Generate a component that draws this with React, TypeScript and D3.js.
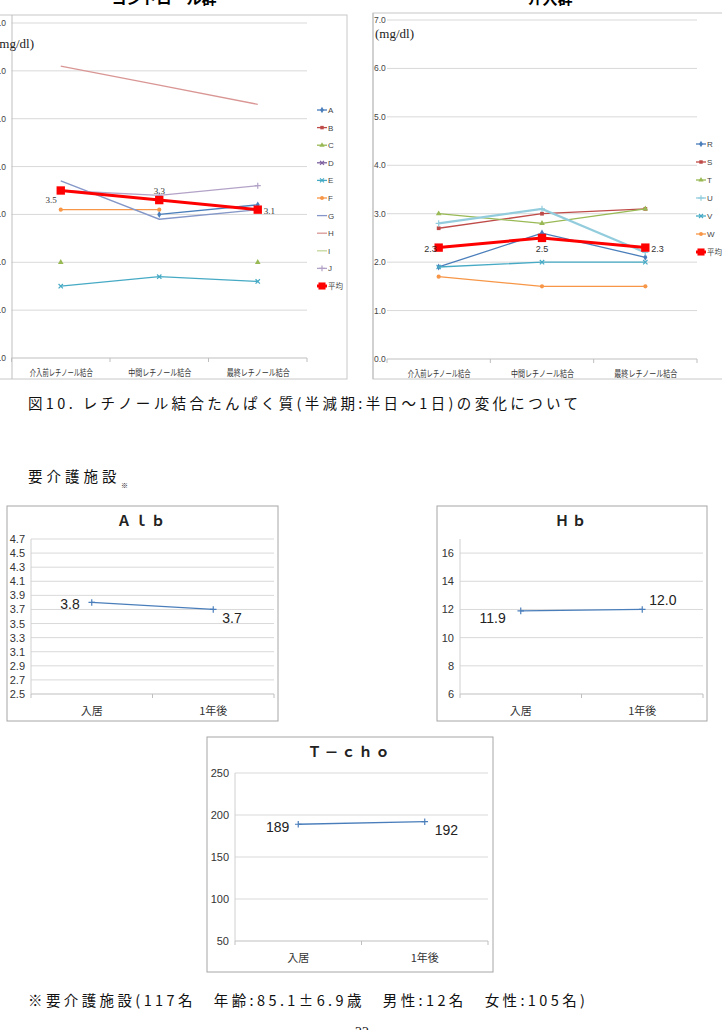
import React, { useRef, useEffect } from "react";
import * as d3 from "d3";

// retinol-binding protein, three measurements per subject
const rbpCats = ["介入前レチノール結合", "中間レチノール結合", "最終レチノール結合"];
const rbpTicks = [0, 1, 2, 3, 4, 5, 6, 7];

const controlNames = ["A", "B", "C", "D", "E", "F", "G", "H", "I", "J", "平均"];
const controlA = [null, 3.0, 3.2];
const controlB = [null, null, null];
const controlC = [2.0, null, 2.0];
const controlD = [null, null, null];
const controlE = [1.5, 1.7, 1.6];
const controlF = [3.1, 3.1, null];
const controlG = [3.7, 2.9, 3.1];
const controlH = [6.1, 5.7, 5.3];
const controlI = [4.8, null, null];
const controlJ = [3.5, 3.4, 3.6];
const controlMean = [3.5, 3.3, 3.1];

const interNames = ["R", "S", "T", "U", "V", "W", "平均"];
const interR = [1.9, 2.6, 2.1];
const interS = [2.7, 3.0, 3.1];
const interT = [3.0, 2.8, 3.1];
const interU = [2.8, 3.1, 2.2];
const interV = [1.9, 2.0, 2.0];
const interW = [1.7, 1.5, 1.5];
const interMean = [2.3, 2.5, 2.3];

// nursing-care facility residents: admission vs one year later
const facilityCats = ["入居", "1年後"];
const albValues = [3.8, 3.7];
const albTicks = [2.5, 2.7, 2.9, 3.1, 3.3, 3.5, 3.7, 3.9, 4.1, 4.3, 4.5, 4.7];
const hbValues = [11.9, 12.0];
const hbTicks = [6, 8, 10, 12, 14, 16];
const tchoValues = [189, 192];
const tchoTicks = [50, 100, 150, 200, 250];

const figCaption = "図10. レチノール結合たんぱく質(半減期:半日〜1日)の変化について";
const facilityHeading = "要介護施設";
const facilityNote = "※要介護施設(117名　年齢:85.1±6.9歳　男性:12名　女性:105名)";
const pageNumber = "22";

const controlColors = ["#4a7ebb", "#be4b48", "#98b954", "#7d60a0", "#46aac5", "#f79646",
  "#8497c8", "#d99694", "#c3d69b", "#b3a2c7", "#ff0000"];
const controlMarkers = ["diamond", "square", "triangle", "times", "times", "circle",
  "none", "none", "none", "plus", "square"];
const interColors = ["#4a7ebb", "#be4b48", "#98b954", "#93cddd", "#46aac5", "#f79646", "#ff0000"];
const interMarkers = ["diamond", "square", "triangle", "plus", "times", "circle", "square"];

const jp = "'Noto Sans CJK JP', sans-serif";
const narrow = "'Liberation Sans Narrow', 'Liberation Sans', sans-serif";

function symbolFor(kind, size) {
  const types = {
    diamond: d3.symbolDiamond, square: d3.symbolSquare, triangle: d3.symbolTriangle,
    circle: d3.symbolCircle, times: d3.symbolTimes, plus: d3.symbolPlus,
  };
  return d3.symbol(types[kind], size)();
}

function drawMarker(g, kind, x, y, color, size) {
  if (kind === "none") return;
  const stroked = kind === "times" || kind === "plus";
  g.append("path")
    .attr("d", symbolFor(kind, size))
    .attr("transform", `translate(${x},${y})`)
    .attr("fill", stroked ? "none" : color)
    .attr("stroke", stroked ? color : "none")
    .attr("stroke-width", 1.2);
}

function drawRbpChart(svg, cfg) {
  const g = svg.append("g");
  const x = d3.scaleBand().domain(rbpCats).range([cfg.left, cfg.right]);
  const y = d3.scaleLinear().domain([0, 7]).range([cfg.bottom, cfg.top]);
  const cx = (c) => x(c) + x.bandwidth() / 2;

  // frame and title
  g.append("rect").attr("x", cfg.frame[0]).attr("y", cfg.frame[1])
    .attr("width", cfg.frame[2] - cfg.frame[0]).attr("height", cfg.frame[3] - cfg.frame[1])
    .attr("fill", "none").attr("stroke", "#c8c8c8");
  g.append("text").attr("x", cfg.titleX).attr("y", 4).attr("text-anchor", "middle")
    .attr("font-family", jp).attr("font-weight", 700).attr("font-size", 15).text(cfg.title);

  g.selectAll(".grid").data(rbpTicks.slice(1)).join("line")
    .attr("x1", cfg.left).attr("x2", cfg.right)
    .attr("y1", (d) => y(d)).attr("y2", (d) => y(d))
    .attr("stroke", "#d9d9d9");
  g.append("line").attr("x1", cfg.left).attr("x2", cfg.right)
    .attr("y1", y(0)).attr("y2", y(0)).attr("stroke", "#bfbfbf");
  g.selectAll(".xtick").data([0, 1, 2, 3]).join("line")
    .attr("x1", (i) => cfg.left + i * x.bandwidth()).attr("x2", (i) => cfg.left + i * x.bandwidth())
    .attr("y1", y(0)).attr("y2", y(0) + 4).attr("stroke", "#bfbfbf");
  g.append("line").attr("x1", cfg.axisX).attr("x2", cfg.axisX)
    .attr("y1", cfg.frame[1]).attr("y2", cfg.frame[3]).attr("stroke", "#bfbfbf");

  g.selectAll(".ylab").data(rbpTicks).join("text")
    .attr("x", cfg.tickX).attr("y", (d) => y(d) + 3)
    .attr("text-anchor", cfg.tickAnchor)
    .attr("font-family", narrow).attr("font-size", 8.5).attr("fill", "#444")
    .text((d) => d.toFixed(1));

  g.selectAll(".xlab").data(rbpCats).join("text")
    .attr("x", (d) => cx(d) - 31).attr("y", y(0) + 18)
    .attr("textLength", 63).attr("lengthAdjust", "spacingAndGlyphs")
    .attr("font-family", jp).attr("font-size", 9).attr("fill", "#333")
    .text((d) => d);

  g.append("text").attr("x", cfg.unitX).attr("y", cfg.unitY)
    .attr("text-anchor", cfg.unitAnchor)
    .attr("font-family", "'Liberation Serif', serif").attr("font-size", 13).attr("fill", "#222")
    .text("(mg/dl)");

  const line = d3.line()
    .defined((d) => d.v != null)
    .x((d) => cx(d.c))
    .y((d) => y(d.v));

  cfg.series.forEach((vals, i) => {
    const pts = vals.map((v, j) => ({ c: rbpCats[j], v }));
    const isMean = i === cfg.series.length - 1;
    g.append("path").datum(pts).attr("d", line)
      .attr("fill", "none").attr("stroke", cfg.colors[i])
      .attr("stroke-width", isMean ? 3 : cfg.widths ? cfg.widths[i] : 1.3);
    pts.filter((p) => p.v != null).forEach((p) =>
      drawMarker(g, cfg.markers[i], cx(p.c), y(p.v), cfg.colors[i], isMean ? 70 : 14));
  });

  // mean value labels
  const mean = cfg.series[cfg.series.length - 1];
  mean.forEach((v, j) => {
    const o = cfg.meanOffsets[j];
    g.append("text").attr("x", cx(rbpCats[j]) + o[0]).attr("y", y(v) + o[1])
      .attr("text-anchor", o[2])
      .attr("font-family", cfg.labelFont).attr("font-size", 9).attr("fill", "#333")
      .text(v.toFixed(1));
  });

  // legend
  cfg.names.forEach((n, i) => {
    const ly = cfg.legendY + i * cfg.legendStep;
    const isMean = i === cfg.names.length - 1;
    g.append("line").attr("x1", cfg.legendX).attr("x2", cfg.legendX + 10)
      .attr("y1", ly).attr("y2", ly).attr("stroke", cfg.colors[i]).attr("stroke-width", isMean ? 3 : 1.3);
    drawMarker(g, cfg.markers[i], cfg.legendX + 5, ly, cfg.colors[i], isMean ? 50 : 12);
    g.append("text").attr("x", cfg.legendX + 11).attr("y", ly + 3)
      .attr("font-family", isMean ? jp : narrow).attr("font-size", isMean ? 7.5 : 8).attr("fill", "#444")
      .text(n);
  });
}

function drawFacilityChart(svg, cfg) {
  const g = svg.append("g");
  const [bx0, by0, bx1, by1] = cfg.box;
  const x = d3.scaleBand().domain(facilityCats).range([cfg.left, cfg.right]);
  const y = d3.scaleLinear().domain(cfg.domain).range([cfg.bottom, cfg.top]);
  const cx = (c) => x(c) + x.bandwidth() / 2;
  const base = y(cfg.ticks[0]);

  g.append("rect").attr("x", bx0).attr("y", by0).attr("width", bx1 - bx0).attr("height", by1 - by0)
    .attr("fill", "#fff").attr("stroke", "#a6a6a6");
  g.append("text").attr("x", (bx0 + bx1) / 2).attr("y", by0 + 20).attr("text-anchor", "middle")
    .attr("font-family", jp).attr("font-weight", 700).attr("font-size", 14).attr("fill", "#222")
    .attr("letter-spacing", 3).text(cfg.title);

  g.selectAll(".grid").data(cfg.ticks.slice(1)).join("line")
    .attr("x1", cfg.left).attr("x2", cfg.right)
    .attr("y1", (d) => y(d)).attr("y2", (d) => y(d)).attr("stroke", "#d9d9d9");
  g.append("line").attr("x1", cfg.left).attr("x2", cfg.right)
    .attr("y1", base).attr("y2", base).attr("stroke", "#bfbfbf");
  g.append("line").attr("x1", cfg.left).attr("x2", cfg.left)
    .attr("y1", y(cfg.domain[1])).attr("y2", base).attr("stroke", "#d0d0d0");
  g.selectAll(".xtick").data([0, 1, 2]).join("line")
    .attr("x1", (i) => cfg.left + i * x.bandwidth()).attr("x2", (i) => cfg.left + i * x.bandwidth())
    .attr("y1", base).attr("y2", base + 4).attr("stroke", "#bfbfbf");

  g.selectAll(".ylab").data(cfg.ticks).join("text")
    .attr("x", cfg.left - 6).attr("y", (d) => y(d) + 4).attr("text-anchor", "end")
    .attr("font-family", narrow).attr("font-size", 11).attr("fill", "#333")
    .text((d) => d3.format(cfg.tickFmt)(d));

  g.selectAll(".xlab").data(facilityCats).join("text")
    .attr("x", (d) => cx(d)).attr("y", base + 21).attr("text-anchor", "middle")
    .attr("font-family", jp).attr("font-size", 11).attr("fill", "#333")
    .text((d) => d);

  const pts = cfg.values.map((v, j) => ({ c: facilityCats[j], v }));
  g.append("path").datum(pts)
    .attr("d", d3.line().x((d) => cx(d.c)).y((d) => y(d.v)))
    .attr("fill", "none").attr("stroke", "#4a7ebb").attr("stroke-width", 1.3);
  pts.forEach((p, j) => {
    drawMarker(g, "plus", cx(p.c), y(p.v), "#4a7ebb", 16);
    const o = cfg.labelOffsets[j];
    g.append("text").attr("x", cx(p.c) + o[0]).attr("y", y(p.v) + o[1]).attr("text-anchor", o[2])
      .attr("font-family", narrow).attr("font-size", 14).attr("fill", "#222")
      .text(d3.format(cfg.valueFmt)(p.v));
  });
}

function drawPageText(svg) {
  const g = svg.append("g").attr("font-family", jp).attr("fill", "#111");
  g.append("text").attr("x", 28).attr("y", 409).attr("font-size", 14.5)
    .attr("textLength", 550).attr("lengthAdjust", "spacing").text(figCaption);
  g.append("text").attr("x", 28).attr("y", 482).attr("font-size", 14.5)
    .attr("letter-spacing", 4).text(facilityHeading);
  g.append("text").attr("x", 121).attr("y", 488).attr("font-size", 7).text("※");
  g.append("text").attr("x", 28).attr("y", 1006).attr("font-size", 14.5)
    .attr("textLength", 557).attr("lengthAdjust", "spacing").text(facilityNote);
  g.append("text").attr("x", 362).attr("y", 1037).attr("text-anchor", "middle")
    .attr("font-family", "'Liberation Serif', serif").attr("font-size", 14).text(pageNumber);
}

export default function App() {
  const svgRef = useRef(null);

  useEffect(() => {
    const svg = d3.select(svgRef.current);
    svg.selectAll("*").remove();

    drawRbpChart(svg, {
      title: "コントロール群", titleX: 164,
      frame: [-2, 15, 347, 379],
      left: 11.5, right: 307, top: 23, bottom: 358, axisX: 12,
      tickX: 6, tickAnchor: "end",
      unitX: 34, unitY: 48, unitAnchor: "end",
      names: controlNames,
      series: [controlA, controlB, controlC, controlD, controlE, controlF, controlG,
        controlH, controlI, controlJ, controlMean],
      colors: controlColors, markers: controlMarkers,
      labelFont: "'Liberation Serif', serif",
      meanOffsets: [[-4, 12, "end"], [0, -6, "middle"], [6, 4, "start"]],
      legendX: 317, legendY: 110, legendStep: 17.6,
    });

    drawRbpChart(svg, {
      title: "介入群", titleX: 550,
      frame: [373, 13, 724, 379],
      left: 387, right: 697, top: 20, bottom: 359, axisX: 373,
      tickX: 374, tickAnchor: "start",
      unitX: 375, unitY: 38, unitAnchor: "start",
      names: interNames,
      series: [interR, interS, interT, interU, interV, interW, interMean],
      colors: interColors, markers: interMarkers,
      widths: [1.3, 1.3, 1.3, 2.2, 1.3, 1.3, 3],
      labelFont: narrow,
      meanOffsets: [[-2, 4, "end"], [0, 14, "middle"], [6, 4, "start"]],
      legendX: 696, legendY: 144, legendStep: 18,
    });

    drawFacilityChart(svg, {
      title: "Ａｌｂ", box: [7, 506, 278, 721],
      left: 31, right: 274, top: 539, bottom: 694,
      domain: [2.5, 4.7], ticks: albTicks, tickFmt: ".1f",
      values: albValues, valueFmt: ".1f",
      labelOffsets: [[-12, 7, "end"], [9, 14, "start"]],
    });

    drawFacilityChart(svg, {
      title: "Ｈｂ", box: [437, 506, 707, 721],
      left: 460, right: 703, top: 539, bottom: 694,
      domain: [6, 17], ticks: hbTicks, tickFmt: "d",
      values: hbValues, valueFmt: ".1f",
      labelOffsets: [[-15, 12, "end"], [7, -4, "start"]],
    });

    drawFacilityChart(svg, {
      title: "Ｔ－ｃｈｏ", box: [207, 737, 493, 972],
      left: 235, right: 488, top: 773, bottom: 941,
      domain: [50, 250], ticks: tchoTicks, tickFmt: "d",
      values: tchoValues, valueFmt: "d",
      labelOffsets: [[-9, 8, "end"], [10, 13, "start"]],
    });

    drawPageText(svg);
  }, []);

  return (
    <svg
      ref={svgRef}
      width={722}
      height={1030}
      style={{ position: "absolute", left: 0, top: 0, background: "#fff" }}
    />
  );
}
